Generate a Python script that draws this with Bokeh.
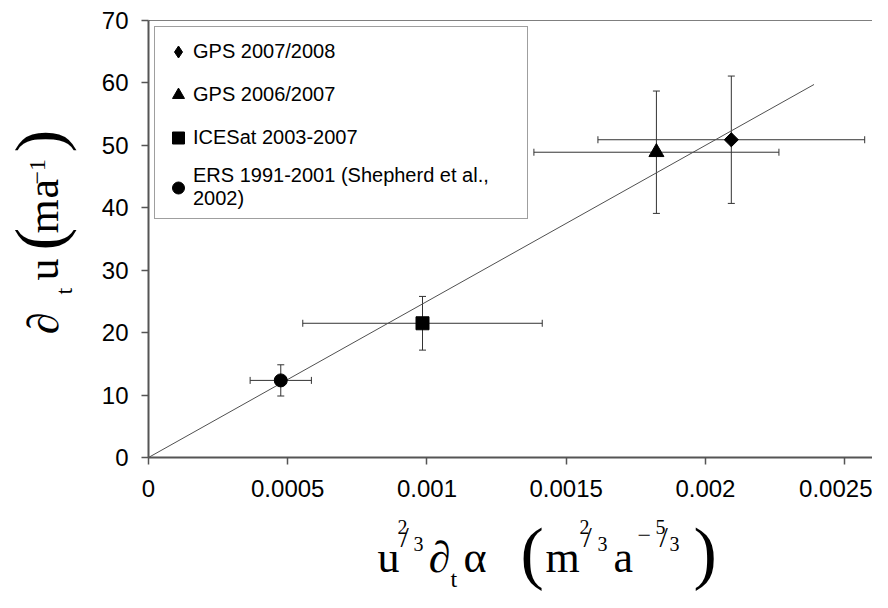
import math
from bokeh.plotting import figure
from bokeh.layouts import row, column
from bokeh.models import (Range1d, FixedTicker, Whisker, ColumnDataSource, Legend,
                          LegendItem, Label, Span, TeeHead)
from bokeh.embed import file_html
from bokeh.resources import INLINE

# ---------------- data ----------------
series_names = ["GPS 2007/2008", "GPS 2006/2007", "ICESat 2003-2007",
                "ERS 1991-2001 (Shepherd et al.,\n2002)"]
x_vals = [0.002093, 0.001824, 0.000984, 0.000475]
y_vals = [50.9, 48.9, 21.5, 12.35]
x_errs = [0.000479, 0.00044, 0.00043, 0.00011]
y_errs = [10.2, 9.8, 4.3, 2.5]
markers = ["diamond", "triangle", "square", "circle"]

fit_slope = 25000.0
fit_x = [0.0, 0.00239]

x_ticks = [0, 0.0005, 0.001, 0.0015, 0.002, 0.0025]
x_tick_labels = ["0", "0.0005", "0.001", "0.0015", "0.002", "0.0025"]
y_ticks = [0, 10, 20, 30, 40, 50, 60, 70]
x_max = 0.0026
y_max = 70

# ---------------- styles ----------------
marker_style = {
    "diamond": dict(marker="square", size=10, angle=math.pi / 4),
    "triangle": dict(marker="triangle", size=15, angle=0.0),
    "square": dict(marker="square", size=13, angle=0.0),
    "circle": dict(marker="circle", size=13, angle=0.0),
}
AXIS_COL = "#555555"
BAR_COL = "#333333"
TOTAL_W, TOTAL_H = 872, 592
YT_W = 90          # width of the y-title strip
MAIN_H = 507       # height of the main plot
XT_H = TOTAL_H - MAIN_H
LEFT_B = 58

p = figure(width=TOTAL_W - YT_W, height=MAIN_H,
           x_range=Range1d(0, x_max), y_range=Range1d(0, y_max),
           output_backend="svg", toolbar_location=None,
           min_border_left=LEFT_B, min_border_right=0, min_border_top=20,
           min_border_bottom=MAIN_H - 457)
p.xgrid.visible = False
p.ygrid.visible = False
p.outline_line_color = None

p.xaxis.ticker = FixedTicker(ticks=x_ticks)
p.xaxis.major_label_overrides = {t: s for t, s in zip(x_ticks, x_tick_labels)}
p.yaxis.ticker = FixedTicker(ticks=y_ticks)
for ax in (p.xaxis, p.yaxis):
    ax.axis_line_color = AXIS_COL
    ax.axis_line_width = 2
    ax.major_tick_line_color = AXIS_COL
    ax.major_tick_line_width = 1.5
    ax.major_tick_in = 0
    ax.major_tick_out = 7
    ax.minor_tick_line_color = None
    ax.major_label_text_font = "Liberation Sans"
    ax.major_label_text_font_size = "24px"
    ax.major_label_text_color = "black"
p.xaxis.major_label_standoff = 15
p.yaxis.major_label_standoff = 13

p.add_layout(Span(location=y_max, dimension="width", line_color="black", line_width=1))

p.line(fit_x, [fit_slope * v for v in fit_x], line_color="#505050", line_width=1)

src = ColumnDataSource(dict(
    x=x_vals, y=y_vals,
    x_lo=[a - b for a, b in zip(x_vals, x_errs)], x_hi=[a + b for a, b in zip(x_vals, x_errs)],
    y_lo=[a - b for a, b in zip(y_vals, y_errs)], y_hi=[a + b for a, b in zip(y_vals, y_errs)],
))
for base, lo, hi, dim in (("y", "x_lo", "x_hi", "width"), ("x", "y_lo", "y_hi", "height")):
    p.add_layout(Whisker(source=src, base=base, lower=lo, upper=hi, dimension=dim,
                         line_color=BAR_COL, line_width=1,
                         upper_head=TeeHead(size=7, line_color=BAR_COL, line_width=1),
                         lower_head=TeeHead(size=7, line_color=BAR_COL, line_width=1)))

items = []
for name, xv, yv, mk in zip(series_names, x_vals, y_vals, markers):
    st = marker_style[mk]
    if mk == "diamond":
        # upright diamond used as the legend swatch, hidden under the rotated square
        lr = p.scatter([xv], [yv], marker="diamond", size=13,
                       fill_color="black", line_color="black")
    r = p.scatter([xv], [yv], marker=st["marker"], size=st["size"], angle=st["angle"],
                  fill_color="black", line_color="black")
    if mk != "diamond":
        lr = r
    items.append(LegendItem(label=name, renderers=[lr]))

legend = Legend(items=items, location="top_left", margin=6, padding=8, spacing=10,
                label_text_font="Liberation Sans", label_text_font_size="20px",
                label_text_color="black",
                label_text_line_height=1.3, label_width=326, label_standoff=0,
                glyph_width=30, glyph_height=33,
                border_line_color="#404040", border_line_width=1.5,
                background_fill_color="white", background_fill_alpha=1.0)
p.add_layout(legend, "center")


def title_fig(w, h, left=0):
    f = figure(width=w, height=h, x_range=Range1d(0, w), y_range=Range1d(0, h),
               x_axis_type=None, y_axis_type=None, output_backend="svg",
               toolbar_location=None, min_border=0, min_border_left=left)
    f.grid.visible = False
    f.outline_line_color = None
    return f


xt = title_fig(TOTAL_W - YT_W, XT_H, left=LEFT_B)
yt = title_fig(YT_W, TOTAL_H)

MID = 0.34  # distance (in em) from baseline to the middle of the text box


def lab(fig, ox, oy, h, text, rx, ry, size, angle=0.0):
    if angle == 0.0:
        ry = ry - MID * size
    else:
        rx = rx - MID * size
    fig.add_layout(Label(x=rx - ox, y=(oy + h) - ry, x_units="screen", y_units="screen",
                         text=text, text_font="Liberation Serif", text_font_size=f"{size}px",
                         text_baseline="middle", text_align="left", angle=angle,
                         text_color="black"))


# reference-pixel anchors: (text, left x, baseline y, font px)
x_title = [("u", 377, 572, 44), ("2", 397, 533, 20), ("/", 400, 546, 30),
           ("3", 413, 550, 20), ("∂", 428, 572, 44), ("t", 450, 587, 24),
           ("α", 463, 572, 44), ("(", 520, 576, 70), ("m", 545, 572, 44),
           ("2", 579, 533, 20), ("/", 583, 546, 30), ("3", 597, 550, 20),
           ("a", 613, 572, 44), ("−", 637, 543, 24), ("5", 655, 533, 20),
           ("/", 659, 546, 30), ("3", 669, 550, 20), (")", 693, 576, 70)]
for t, rx, ry, s in x_title:
    lab(xt, YT_W + LEFT_B, MAIN_H, XT_H, t, rx, ry, s)

# rotated pieces: (text, baseline x, start y, font px)
y_title = [("∂", 58, 334, 44), ("t", 72, 294, 24), ("u", 58, 280, 44),
           ("(", 62, 250, 68), ("m", 58, 233, 44), ("a", 58, 198, 44),
           ("−1", 45, 184, 24), (")", 62, 152, 68)]
for t, rx, ry, s in y_title:
    lab(yt, 0, 0, TOTAL_H, t, rx, ry, s, angle=math.pi / 2)

layout = row(yt, column(p, xt))
open("out.html", "w").write(file_html(layout, INLINE))
